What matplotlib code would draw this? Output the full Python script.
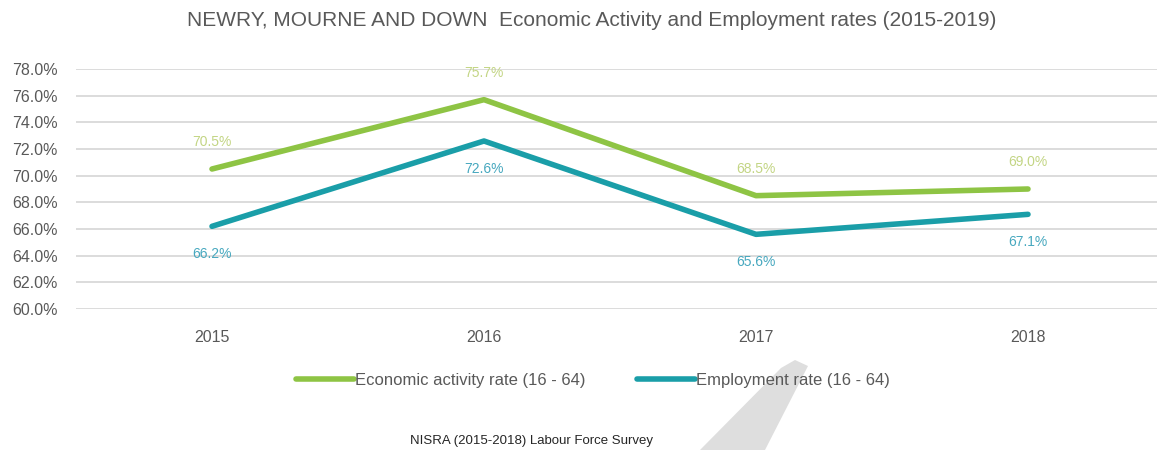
import matplotlib
matplotlib.use("Agg")
import matplotlib.pyplot as plt
from matplotlib.patches import Polygon

years = ["2015", "2016", "2017", "2018"]
econ_activity = [70.5, 75.7, 68.5, 69.0]
employment = [66.2, 72.6, 65.6, 67.1]
series_names = ["Economic activity rate (16 - 64)", "Employment rate (16 - 64)"]
y_ticks = [60, 62, 64, 66, 68, 70, 72, 74, 76, 78]

plt.rcParams['font.family'] = ['Liberation Sans', 'DejaVu Sans']

green = '#8EC444'
teal = '#1A9EA8'
green_lbl = '#C3D584'
teal_lbl = '#47A8BF'
grey_txt = '#595959'

W, H = 1157, 450
fig = plt.figure(figsize=(W / 100, H / 100), dpi=100)
# plot area runs a little past the right edge, like the original export
ax = fig.add_axes([76 / W, (H - 309) / H, 1088 / W, 240 / H])
ax.set_zorder(2)

x = range(len(years))
ax.plot(x, econ_activity, color=green, lw=4, solid_capstyle='round',
        label=series_names[0], zorder=3)
ax.plot(x, employment, color=teal, lw=4, solid_capstyle='round',
        label=series_names[1], zorder=3)

for i, v in enumerate(econ_activity):
    ax.annotate("%.1f%%" % v, (i, v), xytext=(0, 19.5), textcoords='offset points',
                ha='center', va='center', fontsize=10, color=green_lbl)
for i, v in enumerate(employment):
    ax.annotate("%.1f%%" % v, (i, v), xytext=(0, -20), textcoords='offset points',
                ha='center', va='center', fontsize=10, color=teal_lbl)

ax.set_xlim(-0.5, 3.5)
ax.set_ylim(60, 78)
ax.set_yticks(y_ticks)
ax.set_yticklabels(["%.1f%%" % t for t in y_ticks])
ax.set_xticks(list(x))
ax.set_xticklabels(years)
ax.tick_params(axis='both', length=0, labelsize=11.5, colors=grey_txt)
ax.tick_params(axis='y', pad=13)
ax.tick_params(axis='x', pad=15)
ax.grid(axis='y', color='#D9D9D9', lw=1.3)
ax.set_axisbelow(True)
ax.patch.set_alpha(0)
for s in ax.spines.values():
    s.set_visible(False)

fig.text(592 / W, 1 - 21 / H,
         "NEWRY, MOURNE AND DOWN  Economic Activity and Employment rates (2015-2019)",
         ha='center', va='center', fontsize=15, color=grey_txt)

leg = ax.legend(loc='center', bbox_to_anchor=(0.475, -0.296), ncol=2, frameon=False,
                fontsize=12, handlelength=3.5, handletextpad=0.05, columnspacing=3.1,
                labelcolor=grey_txt)

fig.text(532 / W, 1 - 441 / H, "NISRA (2015-2018) Labour Force Survey",
         ha='center', va='center', fontsize=9.5, color='#262626')

# faint grey diagonal stroke, kept behind the axes and legend
pts = [(781, 368), (795, 360), (808, 366), (765, 450), (700, 450)]
fig.patches.append(Polygon([(px / W, 1 - py / H) for px, py in pts], closed=True,
                           transform=fig.transFigure, facecolor='#DEDEDE',
                           edgecolor='none', zorder=0))

fig.savefig("out.png", dpi=100, facecolor='white')
